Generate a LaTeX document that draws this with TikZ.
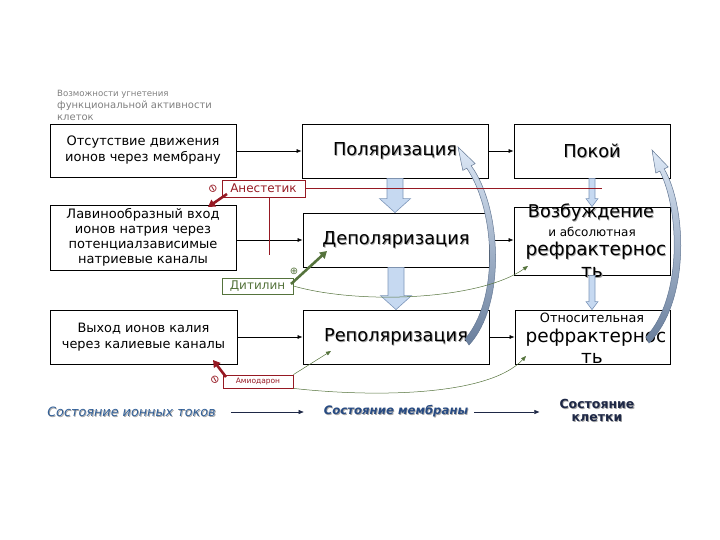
\documentclass[tikz,border=0pt]{standalone}
\usepackage{fontspec}
\setmainfont{DejaVu Sans}
\usetikzlibrary{arrows.meta,calc}
\definecolor{anred}{RGB}{150,25,35}
\definecolor{digreen}{RGB}{85,115,60}
\definecolor{lblue}{RGB}{198,217,241}
\definecolor{bblue}{RGB}{125,150,185}
\definecolor{legblue}{RGB}{50,95,150}
\definecolor{legdark}{RGB}{40,75,130}
\definecolor{navy}{RGB}{30,40,70}
\newcommand\shd[1]{\leavevmode\rlap{\hspace{0.9pt}\raisebox{-0.9pt}{\textcolor{black!35}{#1}}}#1}
\newcommand\fs[1]{\fontsize{#1}{#1}\selectfont}
\begin{document}
\begin{tikzpicture}[x=1pt,y=-1pt,
  box/.style={draw, line width=0.8pt, inner sep=0pt, align=center},
  ftxt/.style={inner sep=0pt, align=center},
  blk/.style={-{Latex[length=5pt,width=4pt]}, line width=0.6pt},
  fat/.style={fill=lblue, draw=bblue, line width=0.6pt},
  curvearrow/.style={top color=lblue!60, bottom color=bblue!85!black, draw=bblue!80!black, line width=0.5pt},
  lab/.style={line width=0.8pt, inner sep=1pt, align=center},
  thickred/.style={anred, line width=2.6pt, -{Triangle[length=7pt,width=8pt]}},
  thickgreen/.style={digreen, line width=2.6pt, -{Triangle[length=7pt,width=8pt]}},
  thin/.style={line width=0.5pt, -{Triangle[length=5pt,width=4pt]}},
]
\useasboundingbox (0,0) rectangle (720,540);

% top-left caption
\node[anchor=north west, inner sep=0pt, align=left, text=black!50] (cap) at (57,90)
  {\fontsize{8.6}{10}\selectfont Возможности угнетения\\функциональной активности\\клеток};

% left column
\node[box, minimum width=186, minimum height=53, font=\fontsize{13}{16}\selectfont] (ion1) at (143,150.5)
  {Отсутствие движения\\ионов через мембрану};
\node[box, minimum width=186, minimum height=65, font=\fontsize{13}{15}\selectfont] (ion2) at (143,237.5)
  {Лавинообразный вход\\ионов натрия через\\потенциалзависимые\\натриевые каналы};
\node[box, minimum width=187, minimum height=54, font=\fontsize{12.9}{16}\selectfont] (ion3) at (143.5,337)
  {Выход ионов калия\\через калиевые каналы};

% middle column
\node[box, minimum width=186, minimum height=54, font=\fs{17.8}] (pol) at (395,151) {\shd{Поляризация}};
\node[box, minimum width=186, minimum height=54, font=\fs{17.8}] (dep) at (396,240) {\shd{Деполяризация}};
\node[box, minimum width=186, minimum height=54, font=\fs{17.8}] (rep) at (396,337) {\shd{Реполяризация}};

% right column
\node[box, minimum width=156, minimum height=54, font=\fs{17.8}] (pok) at (592,151) {\shd{Покой}};
\node[box, minimum width=156, minimum height=68] (voz) at (592,241) {};
\node[box, minimum width=155, minimum height=54] (otn) at (592.5,337) {};
\node[ftxt, font=\fs{17.6}] (vozt1) at (591,213) {\shd{Возбуждение}};
\node[ftxt, font=\fs{12}] (vozt2) at (592,232) {и абсолютная};
\node[ftxt, font=\fs{18.5}] (vozt3) at (596,251) {\shd{рефрактернос}};
\node[ftxt, font=\fs{18.5}] (vozt4) at (592,273) {\shd{ть}};
\node[ftxt, font=\fs{12.8}] (otnt1) at (592,318) {Относительная};
\node[ftxt, font=\fs{18.5}] (otnt2) at (596,338) {рефрактернос};
\node[ftxt, font=\fs{18.5}] (otnt3) at (592,358) {ть};

% horizontal arrows
\draw[blk] (ion1.east |- pol.west) -- (pol.west);
\draw[blk] (ion2.east |- dep.west) -- (dep.west);
\draw[blk] (ion3.east) -- (rep.west);
\draw[blk] (pol.east) -- (pok.west);
\draw[blk] (dep.east) -- (dep.east -| voz.west);
\draw[blk] (rep.east) -- (otn.west);

% fat block arrows (middle)
\draw[fat] let \p1=(pol.south), \p2=(dep.north) in
  (\x1-8pt,\y1) -- (\x1+8pt,\y1) -- (\x1+8pt,\y2+14pt) -- (\x1+15.5pt,\y2+14pt) -- (\x1,\y2)
  -- (\x1-15.5pt,\y2+14pt) -- (\x1-8pt,\y2+14pt) -- cycle;
\draw[fat] let \p1=(dep.south), \p2=(rep.north) in
  (\x1-8pt,\y1) -- (\x1+8pt,\y1) -- (\x1+8pt,\y2+14pt) -- (\x1+15.5pt,\y2+14pt) -- (\x1,\y2)
  -- (\x1-15.5pt,\y2+14pt) -- (\x1-8pt,\y2+14pt) -- cycle;
% thin block arrows (right)
\draw[fat] let \p1=(pok.south), \p2=(voz.north) in
  (\x1-3pt,\y1) -- (\x1+3pt,\y1) -- (\x1+3pt,\y2+8pt) -- (\x1+6pt,\y2+8pt) -- (\x1,\y2)
  -- (\x1-6pt,\y2+8pt) -- (\x1-3pt,\y2+8pt) -- cycle;
\draw[fat] let \p1=(voz.south), \p2=(otn.north) in
  (\x1-3pt,\y1) -- (\x1+3pt,\y1) -- (\x1+3pt,\y2+8pt) -- (\x1+6pt,\y2+8pt) -- (\x1,\y2)
  -- (\x1-6pt,\y2+8pt) -- (\x1-3pt,\y2+8pt) -- cycle;

% curved return arrows
\draw[curvearrow] (471.2,165.8) .. controls (502,208) and (506,305) .. (469,345)
  -- (465,339) .. controls (499,300) and (496,212) .. (466.8,168.2)
  -- (462.8,170.4) -- (458,147) -- (475.2,163.6) -- cycle;
\draw[curvearrow] (664.2,168.9) .. controls (687,208) and (690,302) .. (649,343)
  -- (646,337) .. controls (682,298) and (680,212) .. (659.8,171.1)
  -- (655.8,173.1) -- (652,150) -- (668.2,166.9) -- cycle;

% Anesthetic
\node[lab, draw=anred, text=anred, font=\fs{12}, minimum width=83, minimum height=17] (anest) at (263.5,188.5) {Анестетик};
\coordinate (redend) at (602,188.5);
\coordinate (reddown) at (269,255);
\draw[anred, line width=0.6pt] (anest.east) -- (redend);
\draw[anred, line width=0.6pt] (anest.south -| reddown) -- (reddown);
\coordinate (anstart) at (227,194);
\coordinate (antip) at (208,207);
\draw[thickred] (anstart) -- (antip);
\node[text=anred, font=\fs{11}, inner sep=0pt, rotate=-60] (minus1) at (213,189) {⊖};

% Ditilin
\node[lab, draw=digreen, text=digreen, font=\fs{12}, minimum width=71, minimum height=16] (ditil) at (257.5,286) {Дитилин};
\coordinate (dstart) at (291,284);
\coordinate (dtip) at (327,251);
\draw[thickgreen] (dstart) -- (dtip);
\node[text=digreen, font=\fs{10}, inner sep=0pt] (plus1) at (294,271) {⊕};
\coordinate (dcurveend) at (528,266);
\draw[digreen, thin] (ditil.east) .. controls (360,305) and (480,300) .. (dcurveend);

% Amiodaron
\node[lab, draw=anred, text=anred, font=\fs{7.5}, minimum width=70, minimum height=13] (amio) at (258,381.5) {Амиодарон};
\coordinate (astart) at (226,377);
\coordinate (atip) at (213,360);
\draw[thickred] (astart) -- (atip);
\node[text=anred, font=\fs{11}, inner sep=0pt, rotate=-60] (minus2) at (215,380) {⊖};
\coordinate (arepend) at (331,351);
\coordinate (aotnend) at (526,356);
\draw[digreen, thin] (amio.north east) -- (arepend);
\draw[digreen, thin] (amio.south east) .. controls (380,398) and (490,395) .. (aotnend);

% legend
\node[text=legblue, font=\itshape\fs{12.8}, inner sep=0pt] (leg1) at (131.5,412) {\shd{Состояние ионных токов}};
\node[text=legdark, font=\bfseries\itshape\fs{11.7}, inner sep=0pt] (leg2) at (396,412) {\shd{Состояние мембраны}};
\node[text=navy, font=\bfseries\fontsize{12.5}{13.5}\selectfont, inner sep=0pt, align=center] (leg3) at (597,411)
  {\shd{Состояние}\\\shd{клетки}};
\draw[navy, thin, shorten <=15pt, shorten >=20pt] (leg1.east) -- (leg2.west);
\draw[navy, thin, shorten <=6pt, shorten >=20pt] (leg2.east) -- (leg3.west |- leg2.east);
\end{tikzpicture}
\end{document}
